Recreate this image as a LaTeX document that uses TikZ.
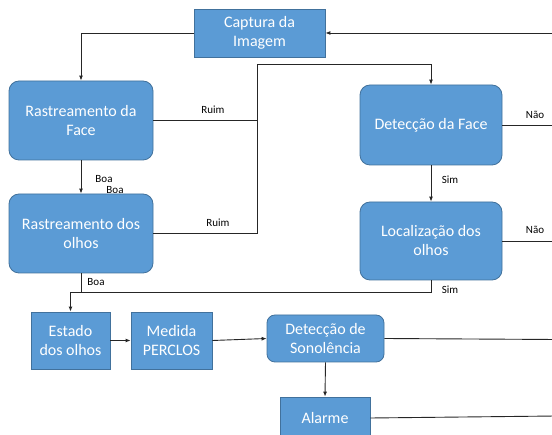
\documentclass[tikz,border=0pt]{standalone}
\usepackage{fontspec}
\setmainfont{Carlito}
\usetikzlibrary{arrows.meta}
\definecolor{boxblue}{HTML}{5B9BD5}
\definecolor{boxline}{HTML}{41719C}
\begin{document}
\begin{tikzpicture}[x=1pt,y=-1pt,>={Latex[length=5pt,width=4pt]}]
        \tikzstyle{process}=[rectangle,draw=boxline,fill=boxblue,line width=0.8pt,inner sep=0pt,align=center,text=white,font=\fontsize{16}{19}\selectfont]
        \tikzstyle{stage}=[process,rounded corners=10pt]
        \tikzstyle{cond}=[inner sep=0pt,font=\fontsize{11}{13}\selectfont]
        \tikzstyle{link}=[draw,black!85,line width=0.9pt]
        \useasboundingbox (0,0) rectangle (552,435);
       \begin{scope}
        \node [process,minimum width=131pt,minimum height=48pt] (cap) at (259.5,33) {Captura da\\Imagem};
        \node [stage,minimum width=144pt,minimum height=79pt] (rface) at (81,120.5) {Rastreamento da\\Face};
        \node [stage,minimum width=144pt,minimum height=79pt] (reyes) at (81,233.5) {Rastreamento dos\\olhos};
        \node [stage,minimum width=142pt,minimum height=80pt] (dface) at (431,125) {Detecção da Face};
        \node [stage,minimum width=142pt,minimum height=78pt] (leyes) at (431,241) {Localização dos\\olhos};
        \node [process,minimum width=79pt,minimum height=57pt] (estado) at (70.5,340.5) {Estado\\dos olhos};
        \node [process,minimum width=81pt,minimum height=57pt] (perclos) at (171.5,340.5) {Medida\\PERCLOS};
        \node [stage,rounded corners=8pt,minimum width=117pt,minimum height=47pt] (sono) at (325.5,338.5) {Detecção de\\Sonolência};
        \node [process,minimum width=90pt,minimum height=42pt] (alarme) at (325,418) {Alarme};

        % saidas para a borda direita
        \coordinate (e1) at (556,33);
        \coordinate (e2) at (556,125);
        \coordinate (e3) at (556,241);
        \coordinate (e4) at (556,339.5);
        \coordinate (e5) at (556,416);
        \coordinate (top) at (257,64);
        \coordinate (bus) at (70.5,292);

        \path[link,->] (e1) -- (cap.east);
        \path[link,->] (cap.west) -| (rface.north);
        \path[link,->] (rface.south) -- (reyes.north);
        \path[link] (rface.east) -- (rface.east -| top);
        \path[link,->] (reyes.east) -| (top) -| (dface.north);
        \path[link,->] (reyes.south) |- (bus) -- (estado.north);
        \path[link] (leyes.south) |- (bus);
        \path[link,->] (dface.south) -- (leyes.north);
        \path[link] (dface.east) -- (e2);
        \path[link] (leyes.east) -- (e3);
        \path[link,->] (estado.east) -- (perclos.west);
        \path[link,->] (perclos.east) -- (sono.west);
        \path[link] (sono.east) -- (e4);
        \path[link,->] (sono.south) -- (alarme.north);
        \path[link] (alarme.east) -- (e5);

        \node [cond] (ruim1) at (213,110) {Ruim};
        \node [cond] (ruim2) at (218,223) {Ruim};
        \node [cond] (boa1) at (104,179) {Boa};
        \node [cond] (boa2) at (115,190) {Boa};
        \node [cond] (boa3) at (96,282) {Boa};
        \node [cond] (sim1) at (450,180) {Sim};
        \node [cond] (sim2) at (450,290) {Sim};
        \node [cond] (nao1) at (535,115) {Não};
        \node [cond] (nao2) at (535,230) {Não};
        \end{scope}
      \end{tikzpicture}
\end{document}
